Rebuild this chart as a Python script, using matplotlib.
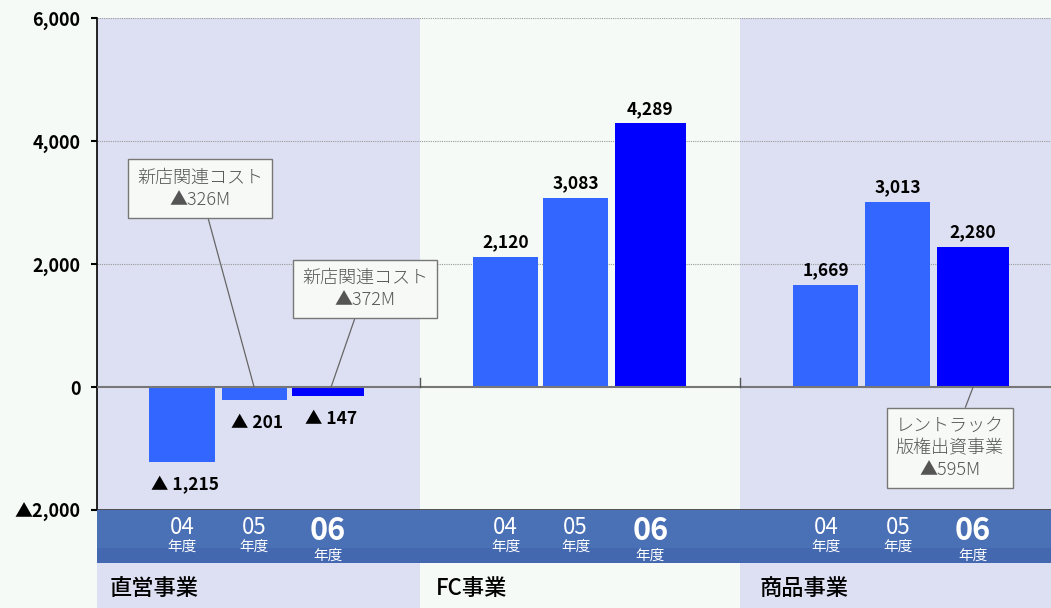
import matplotlib
matplotlib.use("Agg")
import matplotlib.pyplot as plt
import numpy as np

plt.rcParams['font.family'] = ['Noto Sans CJK JP', 'DejaVu Sans']

groups = ['直営事業', 'FC事業', '商品事業']
years = ['04', '05', '06']
values = [
    [-1215, -201, -147],
    [2120, 3083, 4289],
    [1669, 3013, 2280],
]
yticks = [-2000, 0, 2000, 4000, 6000]
ytick_labels = ['▲2,000', '0', '2,000', '4,000', '6,000']
notes = ['新店関連コスト\n▲326M', '新店関連コスト\n▲372M', 'レントラック\n版権出資事業\n▲595M']

lavender = '#dde0f2'
pale = '#f5faf7'
light_bar = '#3366ff'
dark_bar = '#0000ff'

def fmt(v):
    if v < 0:
        return '▲ {:,}'.format(-v)
    return '{:,}'.format(v)

fig = plt.figure(figsize=(10.51, 6.08), dpi=100)
fig.patch.set_facecolor(pale)
ax = fig.add_axes([0.0923, 0.161, 0.9077, 0.809])
ax.set_facecolor(pale)

edges = [0, 1.016, 2.022, 3.0]
band_cols = [lavender, pale, lavender]
for i in range(3):
    ax.axvspan(edges[i], edges[i + 1], color=band_cols[i], zorder=0, lw=0)

offsets = [[0.267, 0.494, 0.726], [0.285, 0.505, 0.74], [0.292, 0.518, 0.755]]
widths = [0.205, 0.205, 0.225]
xs = {}
for g in range(3):
    for k in range(3):
        x = g + offsets[g][k]
        xs[(g, k)] = x
        v = values[g][k]
        ax.bar(x, v, width=widths[k], color=dark_bar if k == 2 else light_bar, zorder=3)
        if v >= 0:
            ax.text(x, v + 90, fmt(v), ha='center', va='bottom', fontsize=12.5,
                    fontweight='bold', zorder=5)
        else:
            ax.text(x + 0.01, v - 230, fmt(v), ha='center', va='top', fontsize=12.5,
                    fontweight='bold', zorder=5)

ax.axhline(0, color='#777777', lw=1.5, zorder=4)
for yv in [2000, 4000, 6000]:
    ax.axhline(yv, color='#999999', lw=0.8, ls=(0, (1, 1)), zorder=1)
ax.axhline(-2000, color='#333333', lw=1.2, zorder=4)
for e in edges[1:3]:
    ax.plot([e, e], [0, 150], color='#555555', lw=1, zorder=4)

ax.set_xlim(0, 3)
ax.set_ylim(-2000, 6000)
ax.set_xticks([])
ax.set_yticks(yticks)
ax.set_yticklabels(ytick_labels, fontsize=13, fontweight='bold')
ax.tick_params(axis='y', length=4, width=1.5, pad=8)
for s in ['top', 'right', 'bottom']:
    ax.spines[s].set_visible(False)
ax.spines['left'].set_linewidth(1.2)

box = dict(boxstyle='square,pad=0.5', fc='#f7f9f6', ec='#777777', lw=1)
note_pos = [(0.324, 3230), (0.843, 1600), (2.682, -990)]
note_xy = [(xs[(0, 1)], 0), (xs[(0, 2)] + 0.01, 0), (xs[(2, 2)], 0)]
for txt, pos, xy in zip(notes, note_pos, note_xy):
    ax.annotate(txt, xy=xy, xytext=pos, ha='center', va='center', fontsize=13,
                color='#555555', linespacing=1.3, bbox=box, zorder=6,
                fontweight='light',
                arrowprops=dict(arrowstyle='-', color='#666666', lw=0.9,
                                shrinkA=0, shrinkB=0))

# bottom strip with year labels and group names
bx = fig.add_axes([0.0923, 0.0, 0.9077, 0.161])
bx.set_xlim(0, 3)
bx.set_ylim(98, 0)
bx.axis('off')
for i in range(3):
    bx.axvspan(edges[i], edges[i + 1], color=band_cols[i], lw=0, zorder=0)
bx.axhspan(0, 38, color='#4a70b5', lw=0, zorder=1)
bx.axhspan(38, 53, color='#4468b0', lw=0, zorder=1)
for g in range(3):
    for k in range(3):
        x = xs[(g, k)]
        if k == 2:
            bx.text(x, 21, years[k], ha='center', va='center', color='white',
                    fontsize=22, fontweight='bold', zorder=3)
            bx.text(x, 46, '年度', ha='center', va='center', color='white',
                    fontsize=10.5, zorder=3)
        else:
            bx.text(x, 17, years[k], ha='center', va='center', color='white',
                    fontsize=16, zorder=3)
            bx.text(x, 37, '年度', ha='center', va='center', color='white',
                    fontsize=10.5, zorder=3)
    bx.text(edges[g] + 0.04 + 0.01 * g, 78, groups[g], ha='left', va='center',
            fontsize=16, fontweight='medium', zorder=3)

fig.savefig('out.png', dpi=100, facecolor=fig.get_facecolor())
